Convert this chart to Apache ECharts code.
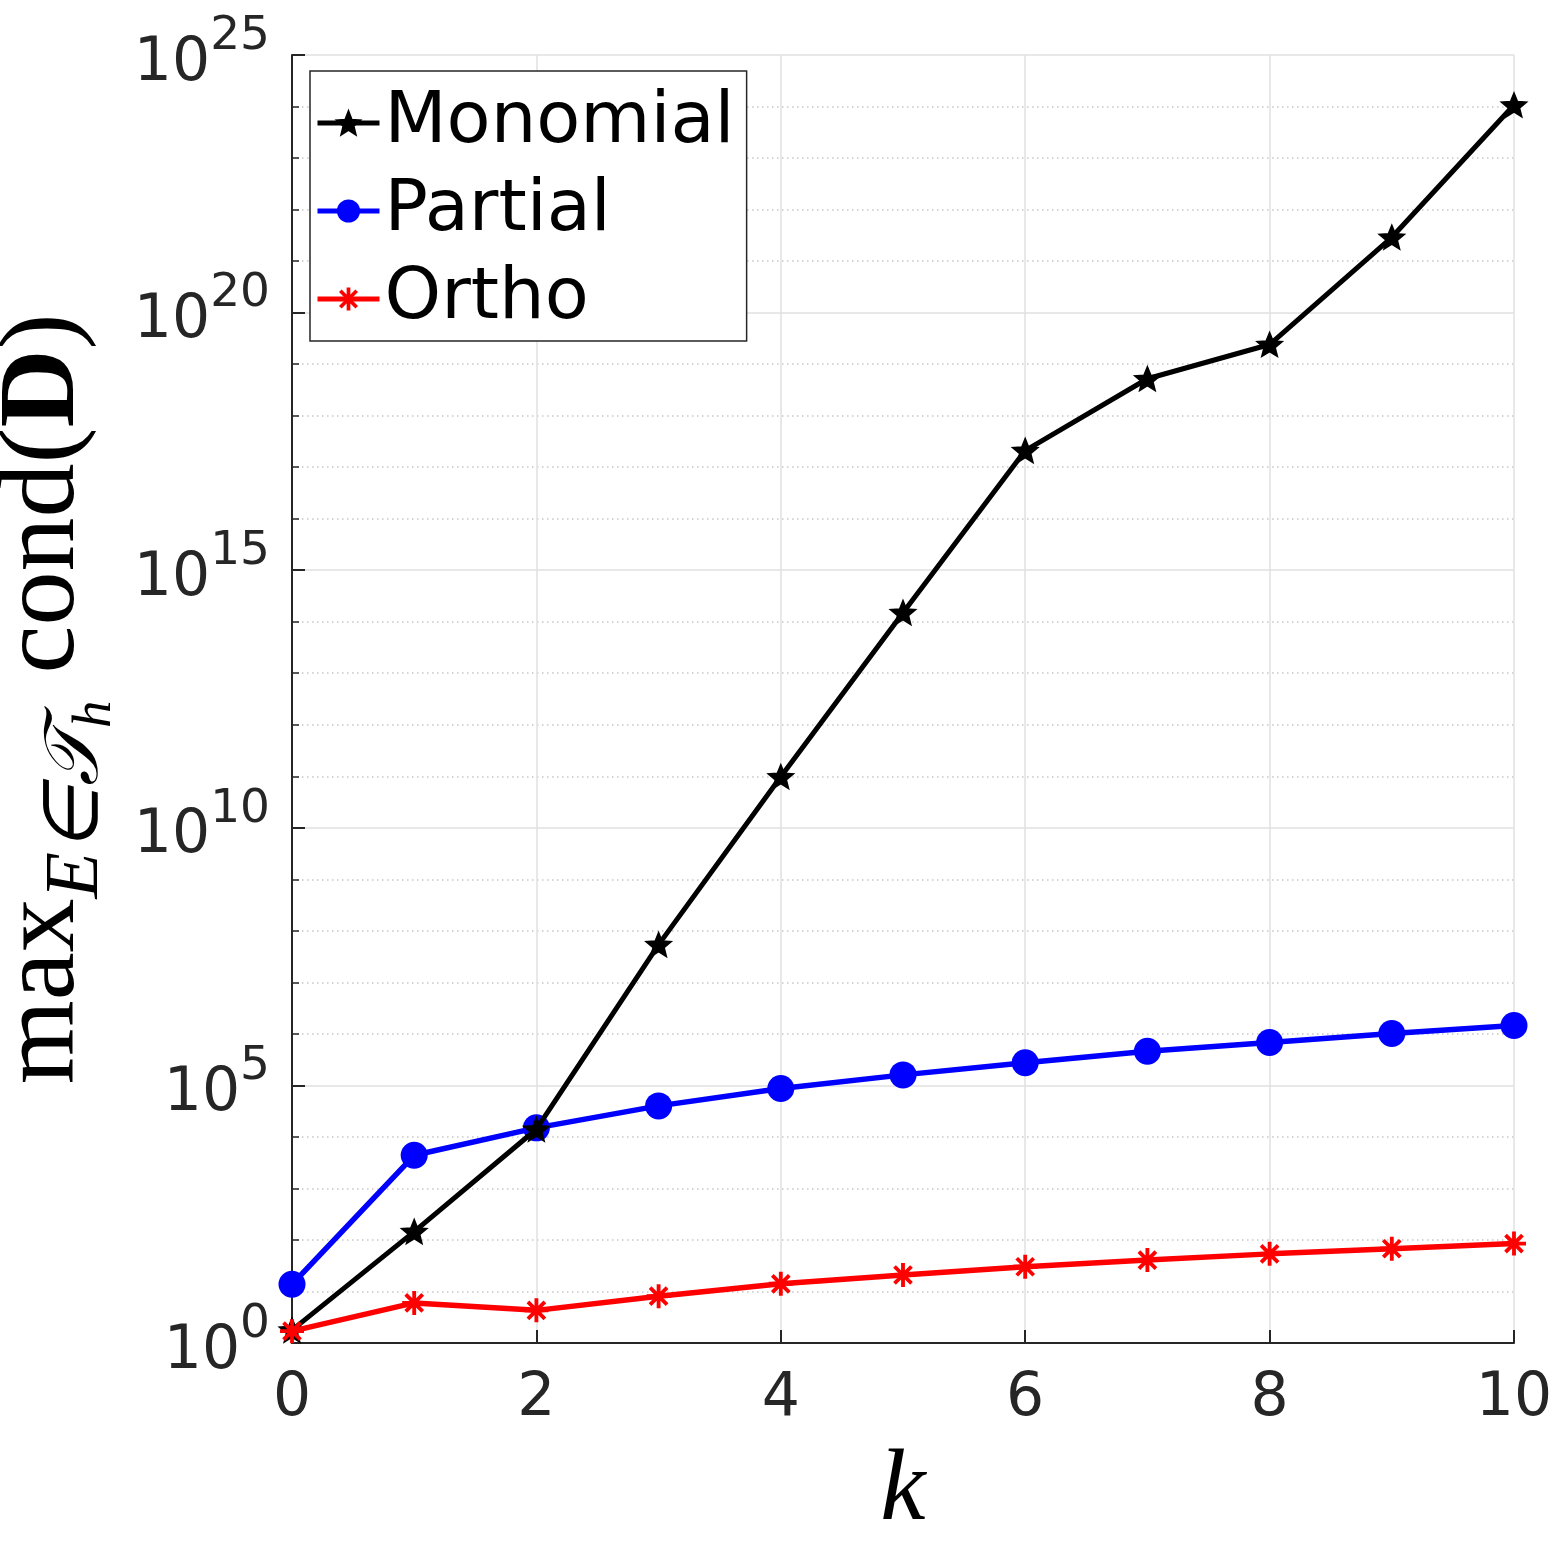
<!DOCTYPE html>
<html>
<head>
<meta charset="utf-8">
<script src="https://cdn.jsdelivr.net/npm/echarts@6/dist/echarts.min.js"></script>
<style>
html,body{margin:0;padding:0;background:#fff;}
#chart{width:1563px;height:1563px;}
</style>
</head>
<body>
<div id="chart"></div>
<script>
// ---- data ----
const kValues = [0, 1, 2, 3, 4, 5, 6, 7, 8, 9, 10];
const monomial = [1.78, 1.45e2, 1.41e4, 5.4e7, 9.8e10, 1.5e14, 2.1e17, 5.2e18, 2.4e19, 2.9e21, 1.07e24];
const partial  = [13.8, 4.4e3, 1.5e4, 4.0e4, 8.7e4, 1.6e5, 2.75e5, 4.6e5, 6.8e5, 1.02e6, 1.45e6];
const ortho    = [1.7, 6.0, 4.3, 8.1, 14.1, 20.9, 30.2, 40.7, 53.7, 67.6, 85.1];
const seriesNames = ['Monomial', 'Partial', 'Ortho'];
const xTicks = [0, 2, 4, 6, 8, 10];
const yTickExponents = [0, 5, 10, 15, 20, 25];

// ---- marker shapes ----
function starPath() {
  let d = '';
  for (let i = 0; i < 10; i++) {
    const r = (i % 2 === 0) ? 10 : 4.4;
    const a = -Math.PI / 2 + i * Math.PI / 5;
    d += (i === 0 ? 'M' : 'L') + (r * Math.cos(a)).toFixed(3) + ',' + (r * Math.sin(a)).toFixed(3) + ' ';
  }
  return 'path://' + d + 'Z';
}
function asteriskPath() {
  const a = 10, b = 1.6;
  let d = '';
  [0, 45, 90, 135].forEach(function (deg) {
    const t = deg * Math.PI / 180, c = Math.cos(t), s = Math.sin(t);
    const pts = [[-a, -b], [a, -b], [a, b], [-a, b]].map(function (p) {
      return [(p[0] * c - p[1] * s).toFixed(3), (p[0] * s + p[1] * c).toFixed(3)];
    });
    d += 'M' + pts[0].join(',') + ' L' + pts[1].join(',') + ' L' + pts[2].join(',') + ' L' + pts[3].join(',') + ' Z ';
  });
  return 'path://' + d;
}

function toPoints(vals) {
  return kValues.map(function (k, i) { return [k, Math.log10(vals[i])]; });
}

const axisColor = '#262626';
const chart = echarts.init(document.getElementById('chart'), null, {renderer: 'canvas'});

const option = {
  animation: false,
  backgroundColor: '#ffffff',
  grid: {left: 292, top: 55, right: 49, bottom: 220, containLabel: false, outerBoundsMode: 'none'},
  legend: {
    data: seriesNames,
    orient: 'vertical',
    left: 310, top: 71,
    padding: [12, 12, 2, 5],
    itemGap: 8,
    itemWidth: 62,
    itemHeight: 29,
    backgroundColor: '#ffffff',
    borderColor: axisColor,
    borderWidth: 1.5,
    borderRadius: 0,
    lineStyle: {width: 5},
    textStyle: {fontFamily: 'DejaVu Sans', fontSize: 72, color: '#000000', lineHeight: 80}
  },
  xAxis: {
    type: 'value', min: 0, max: 10, interval: 2,
    name: 'k', nameLocation: 'middle', nameGap: 98,
    nameTextStyle: {fontFamily: 'Liberation Serif', fontStyle: 'italic', fontSize: 102, color: '#000'},
    axisLine: {show: true, onZero: false, lineStyle: {color: axisColor, width: 2}},
    axisTick: {show: true, inside: true, length: 13, lineStyle: {color: axisColor, width: 2}},
    axisLabel: {fontFamily: 'DejaVu Sans', fontSize: 60, color: axisColor, margin: 26,
      formatter: function (v) { return xTicks.indexOf(v) >= 0 ? String(v) : ''; }},
    splitLine: {show: true, lineStyle: {color: '#e0e0e0', width: 1.5}}
  },
  yAxis: {
    type: 'value', min: 0, max: 25, interval: 5,
    name: '{m|max}{s|E∈𝒯}{h|h}{m| cond(}{b|D}{m|)}',
    nameLocation: 'middle', nameRotate: 90, nameGap: 152,
    nameTextStyle: {
      color: '#000',
      rich: {
        m: {fontFamily: 'Liberation Serif', fontSize: 108, lineHeight: 108, verticalAlign: 'bottom', padding: [0, 0, 24, 0], color: '#000'},
        b: {fontFamily: 'Liberation Serif', fontWeight: 'bold', fontSize: 108, lineHeight: 108, verticalAlign: 'bottom', padding: [0, 0, 24, 0], color: '#000'},
        s: {fontFamily: 'Liberation Serif', fontStyle: 'italic', fontSize: 76, lineHeight: 76, verticalAlign: 'bottom', padding: [0, 0, 8, 0], color: '#000'},
        h: {fontFamily: 'Liberation Serif', fontStyle: 'italic', fontSize: 55, lineHeight: 55, verticalAlign: 'bottom', color: '#000'}
      }
    },
    axisLine: {show: true, onZero: false, lineStyle: {color: axisColor, width: 2}},
    axisTick: {show: true, inside: true, length: 13, lineStyle: {color: axisColor, width: 2}},
    minorTick: {show: true, splitNumber: 5, length: 7, lineStyle: {color: axisColor, width: 1.5}},
    axisLabel: {
      margin: 22, color: axisColor, padding: [18, 0, 0, 0],
      formatter: function (v) { return yTickExponents.indexOf(v) >= 0 ? '{a|10}{s|' + v + '}' : ''; },
      rich: {
        a: {fontFamily: 'DejaVu Sans', fontSize: 60, lineHeight: 60, verticalAlign: 'bottom', color: axisColor},
        s: {fontFamily: 'DejaVu Sans', fontSize: 47, lineHeight: 47, verticalAlign: 'bottom', padding: [0, 0, 34, 0], color: axisColor}
      }
    },
    splitLine: {show: true, lineStyle: {color: '#e0e0e0', width: 1.5}},
    minorSplitLine: {show: true, lineStyle: {color: '#c8c8c8', width: 1.5, type: [1.5, 3.5]}}
  },
  series: [
    {name: seriesNames[0], type: 'line', data: toPoints(monomial),
      symbol: starPath(), symbolSize: 24, symbolKeepAspect: true,
      lineStyle: {color: '#000000', width: 5},
      itemStyle: {color: '#000000', borderColor: '#000000', borderWidth: 2}, z: 3},
    {name: seriesNames[1], type: 'line', data: toPoints(partial),
      symbol: 'circle', symbolSize: 27,
      lineStyle: {color: '#0000ff', width: 5.5},
      itemStyle: {color: '#0000ff', borderWidth: 0}, z: 2},
    {name: seriesNames[2], type: 'line', data: toPoints(ortho),
      symbol: asteriskPath(), symbolSize: 24, symbolKeepAspect: true,
      lineStyle: {color: '#ff0000', width: 5.5},
      itemStyle: {color: '#ff0000', borderWidth: 0}, z: 4}
  ]
};
chart.setOption(option);
</script>
</body>
</html>
